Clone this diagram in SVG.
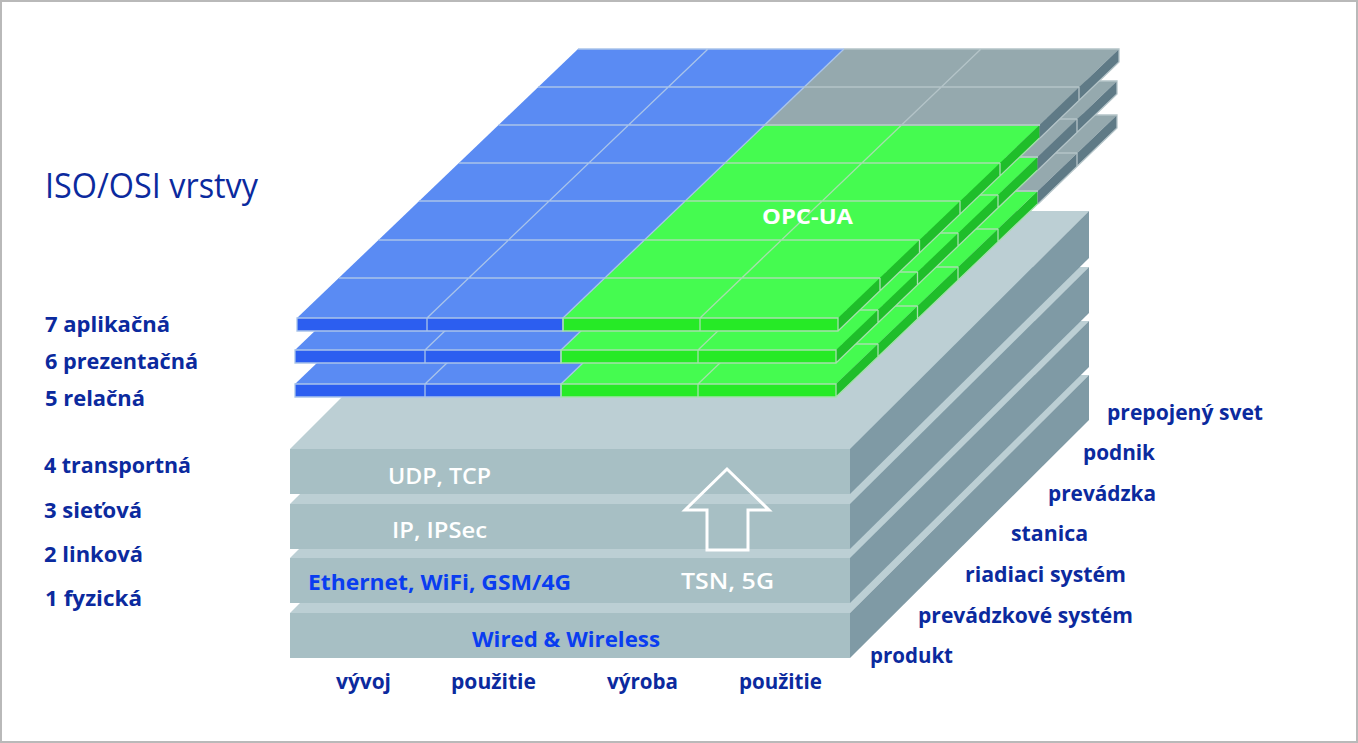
<svg xmlns="http://www.w3.org/2000/svg" xmlns:xlink="http://www.w3.org/1999/xlink" width="1358" height="743" viewBox="0 0 1358 743">
<style>
text{font-family:"Open Sans","Liberation Sans",Arial,sans-serif;font-weight:700;font-size:22px}
.d{fill:#0b2a9e}.b{fill:#0a3df0}.w{fill:#fff}
.top{fill:#bccfd4}.front{fill:#a7bfc4}.side{fill:#7f9aa5}
.bt{fill:#5a8bf3}.bf{fill:#2c5ef0}.gt{fill:#45fb50}.gf{fill:#26ea26}.gs{fill:#1fbe2a}.yt{fill:#95a9ae}.ys{fill:#5f7a86}
.bl{stroke:#a9c4ea;stroke-width:1.3;fill:none}.gl{stroke:#a5e0ac;stroke-width:1.3;fill:none}.yl{stroke:#b4c4c8;stroke-width:1.3;fill:none}
</style>
<defs>
<g id="slab">
<polygon class="bt" points="297,318 563,318 844,49 578,49"/>
<polygon class="yt" points="764.6,125 1039.6,125 1119,49 844,49"/>
<polygon class="gt" points="563,318 838,318 1039.6,125 764.6,125"/>
<rect class="bf" x="297" y="318" width="266" height="13"/>
<rect class="gf" x="563" y="318" width="275" height="13"/>
<polygon class="gs" points="838,318 1039.6,125 1039.6,138 838,331"/>
<polygon class="ys" points="1039.6,125 1119,49 1119,62 1039.6,138"/>
<path class="bl" d="M297 318H563V331H297ZM427 318V331M339 278H605M378.5 240H644.5M419 201H685M459 163H725M498.6 125H765M538 87H804M578 49H844M427 318L708 49"/>
<path class="bl" d="M563 318L844 49"/>
<path class="gl" d="M563 318H838V331H563ZM700 318V331M605 278H880M644.5 240H919.5M685 201H960M725 163H1000M765 125H1040M700 318L901.6 125M838 331L1039.6 138M880 278V291M919.5 240V253M960 201V214M1000 163V176"/>
<path class="yl" d="M765 125H1040M804 87H1079M844 49H1119V62L1040 138M901.6 125L981 49M1079 87V100"/>
</g>
</defs>
<rect x="1" y="1" width="1356" height="741" fill="#fff" stroke="#b9b9b9" stroke-width="2"/>
<g id="layer-1-fyzicka">
<polygon class="top" points="290,613 850,613 1089,375 528,375"/>
<rect class="front" x="290" y="613" width="560" height="45"/>
<polygon class="side" points="850,613 1089,375 1089,420 850,658"/>
</g>
<g id="layer-2-linkova">
<polygon class="top" points="290,558 850,558 1089,321 528,321"/>
<rect class="front" x="290" y="558" width="560" height="45"/>
<polygon class="side" points="850,558 1089,321 1089,367 850,603"/>
</g>
<g id="layer-3-sietova">
<polygon class="top" points="290,504 850,504 1089,267 528,267"/>
<rect class="front" x="290" y="504" width="560" height="45"/>
<polygon class="side" points="850,504 1089,267 1089,313 850,549"/>
</g>
<g id="layer-4-transportna">
<polygon class="top" points="290,449 850,449 1089,211 528,211"/>
<rect class="front" x="290" y="449" width="560" height="45"/>
<polygon class="side" points="850,449 1089,211 1089,258 850,494"/>
</g>
<g id="layer-5-relacna"><use href="#slab" transform="translate(-2,66)"/></g>
<g id="layer-6-prezentacna"><use href="#slab" transform="translate(-2,32)"/></g>
<g id="layer-7-aplikacna"><use href="#slab"/></g>
<g id="connectors">
<polygon id="arrow" points="727,469 685,510 707,510 707,550 748,550 748,510 769,510" fill="none" stroke="#fff" stroke-width="3"/>
</g>
<g id="labels">
<text x="45" y="198" fill="#0b2a9e" style="font-size:34px;font-weight:400" textLength="213" lengthAdjust="spacingAndGlyphs">ISO/OSI vrstvy</text>
<text class="d" x="45" y="332" textLength="125" lengthAdjust="spacingAndGlyphs">7 aplikačná</text>
<text class="d" x="45" y="369" textLength="153" lengthAdjust="spacingAndGlyphs">6 prezentačná</text>
<text class="d" x="45" y="406" textLength="100" lengthAdjust="spacingAndGlyphs">5 relačná</text>
<text class="d" x="44" y="473" textLength="147" lengthAdjust="spacingAndGlyphs">4 transportná</text>
<text class="d" x="44" y="518" textLength="98" lengthAdjust="spacingAndGlyphs">3 sieťová</text>
<text class="d" x="44" y="562" textLength="99" lengthAdjust="spacingAndGlyphs">2 linková</text>
<text class="d" x="45" y="606" textLength="97" lengthAdjust="spacingAndGlyphs">1 fyzická</text>
<text class="d" x="336" y="689" textLength="55" lengthAdjust="spacingAndGlyphs">vývoj</text>
<text class="d" x="451" y="689" textLength="85" lengthAdjust="spacingAndGlyphs">použitie</text>
<text class="d" x="607" y="689" textLength="71" lengthAdjust="spacingAndGlyphs">výroba</text>
<text class="d" x="739" y="689" textLength="83" lengthAdjust="spacingAndGlyphs">použitie</text>
<text class="d" x="870" y="663" textLength="83" lengthAdjust="spacingAndGlyphs">produkt</text>
<text class="d" x="918" y="623" textLength="215" lengthAdjust="spacingAndGlyphs">prevádzkové systém</text>
<text class="d" x="965" y="582" textLength="161" lengthAdjust="spacingAndGlyphs">riadiaci systém</text>
<text class="d" x="1011" y="541" textLength="77" lengthAdjust="spacingAndGlyphs">stanica</text>
<text class="d" x="1048" y="501" textLength="108" lengthAdjust="spacingAndGlyphs">prevádzka</text>
<text class="d" x="1083" y="460" textLength="72" lengthAdjust="spacingAndGlyphs">podnik</text>
<text class="d" x="1107" y="420" textLength="156" lengthAdjust="spacingAndGlyphs">prepojený svet</text>
<text class="w" x="762" y="224" textLength="91" lengthAdjust="spacingAndGlyphs">OPC-UA</text>
<text class="w" x="388" y="484" textLength="103" lengthAdjust="spacingAndGlyphs" style="font-weight:600">UDP, TCP</text>
<text class="w" x="392" y="538" textLength="95" lengthAdjust="spacingAndGlyphs" style="font-weight:600">IP, IPSec</text>
<text class="b" x="308" y="590" textLength="263" lengthAdjust="spacingAndGlyphs">Ethernet, WiFi, GSM/4G</text>
<text class="w" x="681" y="589" textLength="93" lengthAdjust="spacingAndGlyphs" style="font-weight:600">TSN, 5G</text>
<text class="b" x="472" y="647" textLength="188" lengthAdjust="spacingAndGlyphs">Wired &amp; Wireless</text>
</g>
</svg>
